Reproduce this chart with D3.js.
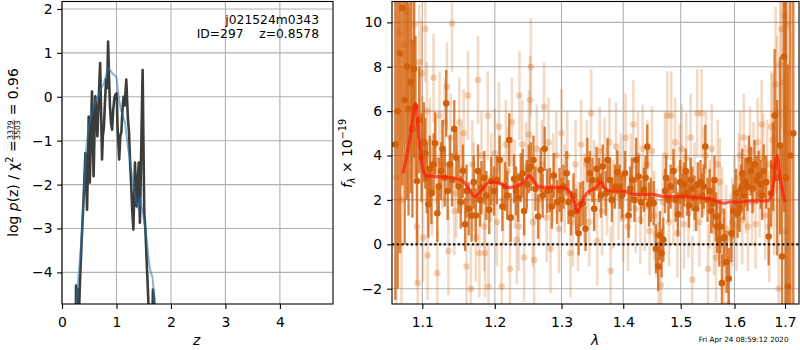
<!DOCTYPE html>
<html>
<head>
<meta charset="utf-8">
<script src="https://cdn.jsdelivr.net/npm/d3@7"></script>
<style>
  html, body { margin: 0; padding: 0; background: #fff; }
  svg { display: block; font-family: "DejaVu Sans", sans-serif; }
</style>
</head>
<body>
<div id="chart"></div>
<script>
// ---- left panel: log p(z) ----
const zTicks = [0, 1, 2, 3, 4];
const lnpTicks = [-4, -3, -2, -1, 0, 1, 2];

// fine-grid p(z), [z, log p]
const pzFine = [
  [0.25, -5.5], [0.258, -4.3], [0.27, -4.5], [0.285, -4.38], [0.30, -4.7], [0.31, -5.0],
  [0.33, -4.2], [0.36, -3.3], [0.39, -2.5], [0.41, -1.9], [0.43, -1.28], [0.46, -2.57],
  [0.48, -1.3], [0.49, -0.45], [0.51, -1.95], [0.53, -1.0], [0.55, 0.12], [0.57, -1.0],
  [0.58, -1.81], [0.60, -0.6], [0.61, 0.01], [0.63, -0.3], [0.65, -0.9], [0.67, -0.2],
  [0.70, 0.77], [0.735, -1.43], [0.75, -0.9], [0.77, -0.67], [0.79, -0.1], [0.81, 0.4],
  [0.83, 0.2], [0.846, 1.26], [0.86, 0.6], [0.88, -0.2], [0.90, -0.6], [0.92, -0.75],
  [0.94, -0.3], [0.96, -0.04], [0.98, 0.05], [1.005, 0.08], [1.02, -0.7], [1.05, -1.43],
  [1.07, -0.9], [1.09, -0.8], [1.11, -0.3], [1.13, 0.0], [1.15, -0.2], [1.18, 0.39],
  [1.21, -0.5], [1.23, -0.8], [1.25, -1.5], [1.27, -2.0], [1.29, -2.6], [1.31, -3.02],
  [1.33, -2.0], [1.34, -1.5], [1.36, -2.3], [1.37, -2.5], [1.39, -1.9], [1.41, -1.5],
  [1.42, -2.3], [1.43, -2.87], [1.45, -1.5], [1.48, 0.61], [1.51, -2.64], [1.53, -3.0],
  [1.56, -3.9], [1.59, -4.8], [1.62, -6.0], [1.65, -5.5], [1.67, -4.39], [1.69, -4.6],
  [1.70, -6.0]
];

// coarse-grid p(z), [z, log p]
const pzCoarse = [
  [0.26, -4.75], [0.29, -4.25], [0.33, -3.7], [0.37, -3.0], [0.40, -2.2], [0.43, -1.45],
  [0.46, -1.0], [0.49, -0.7], [0.53, -0.45], [0.58, -0.25], [0.63, -0.05], [0.67, 0.05],
  [0.72, 0.2], [0.77, 0.3], [0.82, 0.55], [0.85, 0.65], [0.90, 0.58], [0.95, 0.5],
  [1.0, 0.45], [1.04, 0.0], [1.08, -0.3], [1.12, -0.45], [1.16, -0.6], [1.21, -1.15],
  [1.25, -1.45], [1.28, -1.75], [1.31, -1.95], [1.34, -2.25], [1.37, -2.4], [1.40, -2.55],
  [1.43, -2.3], [1.46, -2.5], [1.49, -2.7], [1.53, -3.0], [1.56, -3.3], [1.60, -3.8],
  [1.63, -4.0], [1.66, -4.1], [1.70, -4.65], [1.72, -4.9]
];

// ---- right panel: spectrum ----
const waveTicks = [1.1, 1.2, 1.3, 1.4, 1.5, 1.6, 1.7];
const fluxTicks = [-2, 0, 2, 4, 6, 8, 10];

// best-fit model, [lambda, flux]
const modelSpec = [
  [1.075, 3.2], [1.084, 4.8], [1.091, 6.35], [1.095, 5.0], [1.100, 3.5], [1.105, 3.1],
  [1.12, 3.05], [1.14, 3.0], [1.155, 2.85], [1.163, 2.5], [1.172, 2.15], [1.18, 2.4],
  [1.19, 2.75], [1.20, 2.8], [1.21, 2.7], [1.22, 2.55], [1.235, 2.65], [1.245, 2.9],
  [1.25, 3.1], [1.255, 2.95], [1.265, 2.6], [1.28, 2.55], [1.30, 2.55], [1.31, 2.45],
  [1.32, 1.9], [1.326, 1.45], [1.332, 1.9], [1.34, 2.3], [1.355, 2.55], [1.363, 2.8],
  [1.37, 2.5], [1.38, 2.4], [1.40, 2.4], [1.42, 2.25], [1.45, 2.25], [1.47, 2.15],
  [1.50, 2.15], [1.53, 2.1], [1.56, 2.0], [1.58, 1.85], [1.59, 1.9], [1.61, 1.9],
  [1.63, 1.95], [1.665, 1.95], [1.675, 2.5], [1.684, 4.0], [1.69, 3.0], [1.70, 1.9]
];

// binned data, [lambda, flux, err]
const specBinned = [
  [1.065, 4.5, 7.0], [1.068, 6.0, 8.0], [1.071, 8.6, 9.0], [1.074, 10.65, 8.0], [1.077, 6.5, 6.5],
  [1.080, 8.0, 6.0], [1.082, 6.1, 4.8], [1.085, 7.3, 5.0], [1.087, 5.2, 4.0], [1.089, 7.9, 4.0],
  [1.091, 6.2, 3.2], [1.093, 2.85, 2.8], [1.096, 5.6, 2.4], [1.099, 3.9, 2.0], [1.102, 4.6, 1.8],
  [1.104, 4.1, 1.6], [1.106, 3.0, 1.6], [1.108, 1.8, 1.5], [1.110, 3.4, 1.5], [1.112, 2.3, 1.4],
  [1.115, 3.6, 1.4], [1.117, 4.55, 1.4], [1.120, 1.4, 1.3], [1.122, 2.6, 1.3], [1.125, 3.3, 1.3],
  [1.127, 4.3, 1.3], [1.130, 3.0, 1.3], [1.132, 6.35, 1.5], [1.134, 2.4, 1.3], [1.137, 3.6, 1.3],
  [1.140, 2.9, 1.2], [1.143, 5.2, 1.3], [1.146, 3.9, 1.2], [1.149, 2.6, 1.2], [1.152, 1.9, 1.2],
  [1.155, 3.3, 1.2], [1.158, 0.9, 1.2], [1.160, 2.4, 1.2], [1.163, 1.6, 1.2], [1.167, 1.3, 1.2],
  [1.170, 2.8, 1.2], [1.173, 1.3, 1.2], [1.176, 3.3, 1.2], [1.179, 2.0, 1.2], [1.181, 2.55, 1.2],
  [1.185, 3.0, 1.2], [1.188, 2.2, 1.1], [1.192, 1.55, 1.1], [1.195, 2.85, 1.1], [1.199, 2.4, 1.1],
  [1.203, 2.9, 1.1], [1.207, 3.8, 1.1], [1.211, 1.7, 1.1], [1.215, 2.6, 1.1], [1.218, 2.2, 1.1],
  [1.221, 4.7, 1.2], [1.223, 1.2, 1.1], [1.228, 2.95, 1.1], [1.231, 2.4, 1.1], [1.234, 2.1, 1.1],
  [1.238, 3.0, 1.1], [1.241, 3.2, 1.1], [1.243, 1.5, 1.1], [1.247, 2.7, 1.1], [1.250, 3.4, 1.1],
  [1.253, 3.5, 1.1], [1.257, 3.8, 1.1], [1.260, 2.5, 1.0], [1.264, 1.25, 1.0], [1.268, 3.35, 1.0],
  [1.271, 2.2, 1.0], [1.274, 4.3, 1.0], [1.278, 2.4, 1.0], [1.282, 2.45, 1.0], [1.285, 1.7, 1.0],
  [1.288, 3.1, 1.0], [1.293, 1.9, 1.0], [1.297, 2.45, 1.0], [1.300, 2.0, 1.0], [1.303, 2.6, 1.0],
  [1.308, 3.2, 1.0], [1.311, 1.9, 1.0], [1.315, 1.4, 1.0], [1.319, 2.2, 1.0], [1.323, 1.5, 1.0],
  [1.327, 0.5, 1.0], [1.330, 1.8, 1.0], [1.334, 1.85, 1.0], [1.338, 0.7, 1.0], [1.341, 3.8, 1.0],
  [1.345, 3.2, 1.0], [1.349, 2.9, 1.0], [1.352, 1.6, 1.0], [1.356, 3.4, 1.0], [1.360, 2.9, 1.0],
  [1.363, 2.2, 1.0], [1.366, 3.5, 1.0], [1.371, 2.3, 1.0], [1.374, 3.8, 1.0], [1.378, 2.9, 1.0],
  [1.381, 2.0, 1.0], [1.386, 2.6, 1.0], [1.390, 3.25, 1.0], [1.394, 2.6, 1.0], [1.398, 2.2, 1.0],
  [1.403, 3.2, 1.0], [1.409, 1.3, 1.0], [1.412, 2.5, 1.0], [1.415, 2.9, 1.0], [1.419, 2.0, 1.0],
  [1.422, 3.8, 1.0], [1.426, 3.05, 1.0], [1.430, 1.9, 1.0], [1.435, 2.45, 1.0], [1.438, 3.0, 1.0],
  [1.441, 4.4, 1.0], [1.444, 1.8, 1.0], [1.447, 2.0, 1.0], [1.452, 1.85, 1.0], [1.456, -0.2, 1.1],
  [1.460, -1.0, 1.1], [1.463, 0.4, 1.1], [1.466, -0.4, 1.1], [1.469, 0.2, 1.0], [1.472, 2.4, 1.0],
  [1.474, 3.0, 1.0], [1.478, 2.0, 1.0], [1.482, 2.6, 1.0], [1.487, 3.3, 1.0], [1.491, 2.0, 1.0],
  [1.495, 1.35, 1.0], [1.499, 2.8, 1.0], [1.503, 2.2, 1.0], [1.506, 2.7, 1.0], [1.509, 3.3, 1.0],
  [1.512, 2.3, 1.0], [1.515, 1.75, 1.0], [1.518, 2.9, 1.0], [1.521, 2.5, 1.0], [1.525, 2.1, 1.0],
  [1.528, 1.6, 1.0], [1.531, 2.7, 1.0], [1.536, 2.8, 1.0], [1.539, 2.2, 1.0], [1.542, 2.6, 1.0],
  [1.545, 4.4, 1.0], [1.549, 2.0, 1.0], [1.553, 2.4, 1.0], [1.556, 1.5, 1.0], [1.559, 1.85, 1.1],
  [1.562, 2.9, 1.1], [1.565, 1.25, 1.1], [1.567, 0.8, 1.2], [1.571, 0.2, 1.2], [1.573, 0.8, 1.2],
  [1.576, -1.75, 1.3], [1.580, 0.3, 1.3], [1.585, -0.8, 1.4], [1.589, -1.55, 1.4], [1.594, 0.5, 1.3],
  [1.598, 1.5, 1.2], [1.603, 2.3, 1.1], [1.606, 1.4, 1.1], [1.610, 1.65, 1.1], [1.613, 2.5, 1.1],
  [1.615, 3.2, 1.1], [1.618, 2.2, 1.1], [1.621, 2.8, 1.1], [1.625, 2.6, 1.1], [1.628, 3.8, 1.1],
  [1.632, 3.3, 1.1], [1.635, 2.5, 1.1], [1.639, 3.6, 1.1], [1.643, 2.9, 1.1], [1.647, 3.1, 1.1],
  [1.651, 2.7, 1.1], [1.654, 2.2, 1.1], [1.657, 3.3, 1.2], [1.662, 2.8, 1.2], [1.667, 0.35, 1.3],
  [1.672, 2.3, 1.5], [1.676, 3.5, 2.0], [1.679, 5.8, 3.0], [1.684, 3.0, 3.5], [1.690, 4.45, 4.0],
  [1.694, -0.55, 5.0], [1.698, 8.45, 7.0], [1.702, 3.0, 8.0], [1.706, -1.9, 10.0], [1.711, 4.0, 12.0],
  [1.717, 5.0, 14.0]
];

// unbinned pixels, [lambda, flux, err]
const specPix = [
  [1.066, 3.0, 8.0], [1.070, 9.5, 5.0], [1.073, 2.0, 6.0], [1.076, 9.0, 4.5], [1.079, 10.5, 4.0],
  [1.083, 7.2, 3.5], [1.087, 9.1, 3.2], [1.090, 9.9, 3.0], [1.093, 0.8, 2.6], [1.094, -1.75, 2.4],
  [1.096, 8.2, 2.6], [1.099, 7.7, 2.4], [1.100, 4.5, 2.2], [1.101, 0.3, 2.0], [1.104, 9.7, 2.4],
  [1.106, 6.0, 2.2], [1.107, -0.5, 2.0], [1.110, 4.6, 2.0], [1.113, 2.4, 2.0], [1.115, 7.5, 2.0],
  [1.118, 3.8, 2.0], [1.120, -1.3, 2.0], [1.123, 5.8, 2.0], [1.127, 3.6, 2.0], [1.130, 5.5, 2.0],
  [1.133, 7.1, 2.0], [1.135, -0.3, 2.0], [1.138, 4.8, 2.0], [1.140, 9.95, 2.2], [1.143, 1.5, 2.0],
  [1.146, 2.3, 2.0], [1.150, 5.5, 2.0], [1.153, 3.4, 2.0], [1.156, 5.0, 2.0], [1.160, -1.0, 2.0],
  [1.162, 6.7, 2.0], [1.166, -2.0, 2.0], [1.168, 3.6, 2.0], [1.170, 2.6, 2.0], [1.173, 0.3, 2.0],
  [1.176, 7.4, 2.0], [1.178, -0.4, 2.0], [1.181, 4.0, 2.0], [1.185, 0.8, 2.0], [1.186, -0.4, 2.0],
  [1.190, 5.8, 2.0], [1.191, -1.9, 2.0], [1.195, 3.0, 2.0], [1.200, 4.1, 2.0], [1.203, 1.0, 2.0],
  [1.206, 5.3, 2.0], [1.210, -1.9, 2.0], [1.212, 2.0, 2.0], [1.216, 4.5, 2.0], [1.219, 3.3, 2.0],
  [1.222, -1.1, 2.0], [1.225, 5.5, 2.0], [1.229, 2.7, 2.0], [1.232, 0.2, 2.0], [1.235, 0.8, 2.0],
  [1.236, 6.7, 2.0], [1.240, 4.5, 2.0], [1.243, -0.6, 2.0], [1.246, 3.5, 2.0], [1.250, 4.95, 2.0],
  [1.252, 6.5, 2.0], [1.253, 8.0, 2.2], [1.256, 1.0, 2.0], [1.258, -0.7, 2.0], [1.262, 4.3, 2.0],
  [1.266, 2.0, 2.0], [1.270, 3.6, 2.0], [1.273, 6.2, 2.0], [1.277, 1.2, 2.0], [1.280, 4.6, 2.0],
  [1.283, -0.2, 2.0], [1.287, 3.0, 2.0], [1.292, 4.0, 2.0], [1.296, 0.7, 2.0], [1.300, 5.0, 2.0],
  [1.305, 2.5, 2.0], [1.309, 4.0, 2.0], [1.314, -0.4, 2.0], [1.318, 1.0, 2.0], [1.322, 3.6, 2.0],
  [1.326, 0.8, 2.0], [1.331, 4.5, 2.0], [1.336, 2.1, 2.0], [1.340, 3.6, 2.0], [1.344, 1.0, 2.0],
  [1.347, 5.9, 2.0], [1.352, 2.7, 2.0], [1.357, 0.15, 2.0], [1.361, 4.2, 2.0], [1.365, 1.5, 2.0],
  [1.369, 3.7, 2.0], [1.373, 2.4, 2.0], [1.377, 4.6, 2.0], [1.379, -1.2, 2.0], [1.383, 1.8, 2.0],
  [1.388, 4.4, 2.0], [1.392, 2.2, 2.0], [1.396, 3.0, 2.0], [1.400, 1.2, 2.0], [1.404, 4.8, 2.0],
  [1.408, 0.8, 2.0], [1.413, 3.0, 2.0], [1.417, 5.4, 2.0], [1.421, 1.6, 2.0], [1.425, 4.0, 2.0],
  [1.429, 1.1, 2.0], [1.433, 4.3, 2.0], [1.437, 1.7, 2.0], [1.441, 3.6, 2.0], [1.445, 0.6, 2.0],
  [1.449, 4.2, 2.0], [1.453, 1.3, 2.0], [1.457, 0.5, 2.0], [1.461, -1.0, 2.0], [1.465, -1.85, 2.0],
  [1.468, 1.9, 2.0], [1.472, 4.0, 2.0], [1.476, 5.8, 2.0], [1.479, 1.0, 2.0], [1.483, 5.8, 2.0],
  [1.487, 2.0, 2.0], [1.490, 4.6, 2.0], [1.494, 0.5, 2.0], [1.498, 3.4, 2.0], [1.502, 4.3, 2.0],
  [1.506, 0.9, 2.0], [1.510, 3.9, 2.0], [1.514, 1.4, 2.0], [1.518, 4.8, 2.0], [1.521, -1.6, 2.0],
  [1.525, 2.6, 2.0], [1.530, 5.9, 2.0], [1.534, 1.0, 2.0], [1.538, 5.9, 2.0], [1.542, 3.3, 2.0],
  [1.546, 4.0, 2.0], [1.550, -1.1, 2.0], [1.553, 1.8, 2.0], [1.557, 4.3, 2.0], [1.561, 0.6, 2.0],
  [1.565, -0.6, 2.0], [1.568, 3.6, 2.0], [1.572, 2.8, 2.0], [1.576, 1.5, 2.0], [1.580, -0.8, 2.0],
  [1.584, 0.7, 2.0], [1.588, -2.7, 2.0], [1.592, 0.3, 2.0], [1.596, 1.0, 2.0], [1.600, 2.0, 2.0],
  [1.604, 0.8, 2.0], [1.608, 3.0, 2.0], [1.611, 4.0, 2.0], [1.615, 1.1, 2.0], [1.618, 4.8, 2.0],
  [1.622, 2.5, 2.0], [1.626, 0.8, 2.0], [1.630, 4.2, 2.0], [1.634, 1.9, 2.0], [1.637, 3.5, 2.0],
  [1.641, 0.9, 2.0], [1.645, 4.6, 2.0], [1.649, 2.3, 2.0], [1.653, 5.4, 2.0], [1.656, 3.9, 2.0],
  [1.660, 1.3, 2.0], [1.664, 3.6, 2.0], [1.668, 0.8, 2.5], [1.672, 5.3, 2.5], [1.675, 4.7, 3.0],
  [1.678, 2.5, 3.0], [1.681, 7.2, 3.5], [1.684, 5.9, 3.5], [1.687, -2.0, 4.0], [1.690, 8.1, 4.0],
  [1.693, 9.7, 4.5], [1.696, 7.3, 5.0], [1.699, 10.3, 5.5], [1.701, 0.6, 6.0], [1.704, 9.9, 7.0],
  [1.708, 5.0, 9.0]
];

const objName = "j021524m0343";
const objInfo = "ID=297    z=0.8578";
const stamp = "Fri Apr 24 08:59:12 2020";

// ---- layout ----
const WIDTH = 800;
const HEIGHT = 350;
const TOP = 1.5;
const BOTTOM = 304;
const LEFT_AX = { x0: 62, x1: 333 };
const RIGHT_AX = { x0: 392, x1: 799 };
const FONT = "DejaVu Sans, sans-serif";
const TICK_FS = 13.9;
const TICK_LEN = 4.9;
const GRID = "#b0b0b0";
const SPEC_COLOR = "#d2600a";

const svg = d3
  .select("#chart")
  .append("svg")
  .attr("width", WIDTH)
  .attr("height", HEIGHT)
  .attr("viewBox", [0, 0, WIDTH, HEIGHT]);

const defs = svg.append("defs");
function addClip(id, ax) {
  defs
    .append("clipPath")
    .attr("id", id)
    .append("rect")
    .attr("x", ax.x0)
    .attr("y", TOP)
    .attr("width", ax.x1 - ax.x0)
    .attr("height", BOTTOM - TOP);
}
addClip("clipL", LEFT_AX);
addClip("clipR", RIGHT_AX);

function drawGrid(g, xs, ys, xt, yt, ax) {
  xt.forEach((t) => {
    g.append("line")
      .attr("x1", xs(t)).attr("x2", xs(t))
      .attr("y1", TOP).attr("y2", BOTTOM)
      .attr("stroke", GRID).attr("stroke-width", 1.1);
  });
  yt.forEach((t) => {
    g.append("line")
      .attr("x1", ax.x0).attr("x2", ax.x1)
      .attr("y1", ys(t)).attr("y2", ys(t))
      .attr("stroke", GRID).attr("stroke-width", 1.1);
  });
}

function styleAxis(g) {
  g.select(".domain").remove();
  g.selectAll(".tick line").attr("stroke", "#000").attr("stroke-width", 1.1);
  g.selectAll(".tick text")
    .attr("fill", "#000")
    .attr("font-family", FONT)
    .attr("font-size", TICK_FS);
}

function drawFrame(ax) {
  svg.append("rect")
    .attr("x", ax.x0).attr("y", TOP)
    .attr("width", ax.x1 - ax.x0).attr("height", BOTTOM - TOP)
    .attr("fill", "none").attr("stroke", "#000").attr("stroke-width", 1.1);
}

// ================= left panel =================
const zx = d3.scaleLinear().domain([0, 4.975]).range([LEFT_AX.x0, LEFT_AX.x1]);
const zy = d3.scaleLinear().domain([-4.72, 2.17]).range([BOTTOM, TOP]);

drawGrid(svg.append("g"), zx, zy, zTicks, lnpTicks, LEFT_AX);

const gL = svg.append("g").attr("clip-path", "url(#clipL)");
const zLine = d3.line().x((d) => zx(d[0])).y((d) => zy(d[1]));
gL.append("path")
  .datum(pzFine)
  .attr("d", zLine)
  .attr("fill", "none")
  .attr("stroke", "#3c3c3c")
  .attr("stroke-width", 2.6)
  .attr("stroke-linejoin", "round");
gL.append("path")
  .datum(pzCoarse)
  .attr("d", zLine)
  .attr("fill", "none")
  .attr("stroke", "#1f77b4")
  .attr("stroke-opacity", 0.55)
  .attr("stroke-width", 2)
  .attr("stroke-linejoin", "round");

svg.append("g")
  .attr("transform", `translate(0,${BOTTOM})`)
  .call(d3.axisBottom(zx).tickValues(zTicks).tickSize(TICK_LEN).tickPadding(8).tickFormat(d3.format("d")))
  .call(styleAxis);
svg.append("g")
  .attr("transform", `translate(${LEFT_AX.x0},0)`)
  .call(d3.axisLeft(zy).tickValues(lnpTicks).tickSize(TICK_LEN).tickPadding(4.6).tickFormat(d3.format("d")))
  .call(styleAxis);
drawFrame(LEFT_AX);

svg.append("text")
  .attr("x", 319).attr("y", 24)
  .attr("text-anchor", "end")
  .attr("font-family", FONT).attr("font-size", 12.3)
  .text(objName);
svg.append("text")
  .attr("x", 319).attr("y", 38)
  .attr("text-anchor", "end")
  .attr("font-family", FONT).attr("font-size", 12.3)
  .style("white-space", "pre")
  .text(objInfo);

svg.append("text")
  .attr("x", zx(2.47)).attr("y", 345)
  .attr("text-anchor", "middle")
  .attr("font-family", FONT).attr("font-size", TICK_FS)
  .attr("font-style", "italic")
  .text("z");

// left y label: log p(z) / chi^2 = 3379/3503 = 0.96, rotated
(function () {
  const g = svg.append("g").attr("transform", "translate(18,152.5) rotate(-90)");
  const inner = g.append("g");
  const t1 = inner.append("text").attr("font-family", FONT).attr("font-size", TICK_FS);
  t1.append("tspan").text("log ");
  t1.append("tspan").attr("font-style", "italic").text("p");
  t1.append("tspan").text("(z) / ");
  t1.append("tspan").text("χ");
  t1.append("tspan").attr("font-size", 9.7).attr("dy", -5.5).text("2");
  t1.append("tspan").attr("dy", 5.5).text(" = ");
  let x = t1.node().getComputedTextLength();
  const fs = 7.6;
  const num = inner.append("text").attr("font-family", FONT).attr("font-size", fs).text("3379");
  const den = inner.append("text").attr("font-family", FONT).attr("font-size", fs).text("3503");
  const fw = Math.max(num.node().getComputedTextLength(), den.node().getComputedTextLength()) + 1.5;
  num.attr("x", x + fw / 2).attr("y", -5.2).attr("text-anchor", "middle");
  den.attr("x", x + fw / 2).attr("y", 1.8).attr("text-anchor", "middle");
  inner.append("line")
    .attr("x1", x).attr("x2", x + fw)
    .attr("y1", -3.8).attr("y2", -3.8)
    .attr("stroke", "#000").attr("stroke-width", 0.7);
  x += fw;
  const t2 = inner.append("text")
    .attr("x", x)
    .attr("font-family", FONT).attr("font-size", TICK_FS)
    .style("white-space", "pre")
    .text(" = 0.96");
  x += t2.node().getComputedTextLength();
  inner.attr("transform", `translate(${-x / 2},0)`);
})();

// ================= right panel =================
const lx = d3.scaleLog().domain([1.0607, 1.7288]).range([RIGHT_AX.x0, RIGHT_AX.x1]);
const fy = d3.scaleLinear().domain([-2.69, 10.94]).range([BOTTOM, TOP]);

drawGrid(svg.append("g"), lx, fy, waveTicks, fluxTicks, RIGHT_AX);

const gR = svg.append("g").attr("clip-path", "url(#clipR)");

function drawErrorbars(g, data, opacity, barOpacity, barWidth) {
  const gg = g.append("g");
  gg.selectAll("line")
    .data(data)
    .join("line")
    .attr("x1", (d) => lx(d[0])).attr("x2", (d) => lx(d[0]))
    .attr("y1", (d) => fy(d[1] - d[2])).attr("y2", (d) => fy(d[1] + d[2]))
    .attr("stroke", SPEC_COLOR)
    .attr("stroke-width", barWidth)
    .attr("stroke-opacity", barOpacity);
  gg.selectAll("circle")
    .data(data)
    .join("circle")
    .attr("cx", (d) => lx(d[0]))
    .attr("cy", (d) => fy(d[1]))
    .attr("r", 3.3)
    .attr("fill", SPEC_COLOR)
    .attr("fill-opacity", opacity);
}

drawErrorbars(gR, specPix, 0.28, 0.24, 2.6);
drawErrorbars(gR, specBinned, 1, 0.78, 2.4);

gR.append("path")
  .datum(modelSpec)
  .attr("d", d3.line().x((d) => lx(d[0])).y((d) => fy(d[1])).curve(d3.curveMonotoneX))
  .attr("fill", "none")
  .attr("stroke", "#ff1a0a")
  .attr("stroke-opacity", 0.7)
  .attr("stroke-width", 3.2)
  .attr("stroke-linejoin", "round");

gR.append("line")
  .attr("x1", RIGHT_AX.x0).attr("x2", RIGHT_AX.x1)
  .attr("y1", fy(0)).attr("y2", fy(0))
  .attr("stroke", "#111")
  .attr("stroke-width", 2.2)
  .attr("stroke-dasharray", "2.2,2.5");

svg.append("g")
  .attr("transform", `translate(0,${BOTTOM})`)
  .call(d3.axisBottom(lx).tickValues(waveTicks).tickSize(TICK_LEN).tickPadding(8).tickFormat(d3.format(".1f")))
  .call(styleAxis);
svg.append("g")
  .attr("transform", `translate(${RIGHT_AX.x0},0)`)
  .call(d3.axisLeft(fy).tickValues(fluxTicks).tickSize(TICK_LEN).tickPadding(5).tickFormat(d3.format("d")))
  .call(styleAxis);
drawFrame(RIGHT_AX);

svg.append("text")
  .attr("x", 595).attr("y", 345)
  .attr("text-anchor", "middle")
  .attr("font-family", FONT).attr("font-size", TICK_FS)
  .attr("font-style", "italic")
  .text("λ");

// right y label: f_lambda x 10^-19
(function () {
  const g = svg.append("g").attr("transform", "translate(352,153.5) rotate(-90)");
  const t = g.append("text")
    .attr("font-family", FONT).attr("font-size", TICK_FS)
    .attr("text-anchor", "middle");
  t.append("tspan").attr("font-style", "italic").text("f");
  t.append("tspan").attr("font-size", 9.7).attr("font-style", "italic").attr("dy", 2.5).text("λ");
  t.append("tspan").attr("dy", -2.5).text(" × 10");
  t.append("tspan").attr("font-size", 9.7).attr("dy", -6).text("−19");
})();

svg.append("text")
  .attr("x", 788.5).attr("y", 342)
  .attr("text-anchor", "end")
  .attr("font-family", FONT).attr("font-size", 7.2)
  .text(stamp);
</script>
</body>
</html>
